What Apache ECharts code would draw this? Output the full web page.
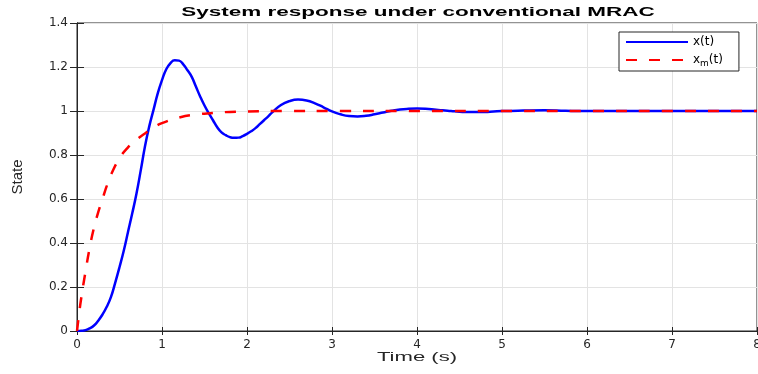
<!DOCTYPE html>
<html>
<head>
<meta charset="utf-8">
<script src="https://cdn.jsdelivr.net/npm/echarts@6/dist/echarts.min.js"></script>
<style>
  html, body { margin: 0; padding: 0; background: #fff; }
  #chart { width: 758px; height: 374px; }
</style>
</head>
<body>
<div id="chart"></div>
<script>
// plant output x(t)
const tPlant = [0, 0.05, 0.1, 0.15, 0.2, 0.25, 0.3, 0.35, 0.4, 0.45,
  0.5, 0.55, 0.6, 0.65, 0.7, 0.75, 0.8, 0.85, 0.9, 0.95,
  1.0, 1.05, 1.1, 1.15, 1.2, 1.25, 1.3, 1.35, 1.4, 1.45,
  1.5, 1.55, 1.6, 1.65, 1.7, 1.75, 1.8, 1.85, 1.9, 1.95,
  2.0, 2.05, 2.1, 2.15, 2.2, 2.25, 2.3, 2.4, 2.5, 2.6,
  2.7, 2.8, 2.9, 3.0, 3.1, 3.2, 3.3, 3.4, 3.5, 3.6,
  3.7, 3.8, 3.9, 4.0, 4.1, 4.2, 4.3, 4.4, 4.5, 4.6,
  4.7, 4.8, 4.9, 5.0, 5.25, 5.5, 5.75, 6, 6.5, 7, 7.5, 8];
const xPlant = [0, 0.001, 0.004, 0.012, 0.025, 0.047, 0.075, 0.11, 0.155, 0.22,
  0.29, 0.365, 0.45, 0.535, 0.625, 0.73, 0.84, 0.93, 1.005, 1.08,
  1.14, 1.19, 1.218, 1.231, 1.229, 1.212, 1.185, 1.155, 1.11, 1.065,
  1.025, 0.99, 0.958, 0.926, 0.903, 0.89, 0.881, 0.878, 0.879, 0.886,
  0.896, 0.908, 0.922, 0.94, 0.958, 0.976, 0.995, 1.027, 1.045, 1.052,
  1.048, 1.035, 1.017, 0.998, 0.985, 0.977, 0.975, 0.978, 0.985, 0.993,
  1.001, 1.007, 1.010, 1.011, 1.010, 1.007, 1.003, 1.000, 0.997, 0.995,
  0.995, 0.996, 0.998, 1.0, 1.002, 1.003, 1.001, 1.0, 1.0, 1.0, 1.0, 1.0];

// reference model x_m(t)
const tModel = [0, 0.025, 0.05, 0.1, 0.15, 0.2, 0.25, 0.3, 0.35, 0.4,
  0.5, 0.6, 0.7, 0.8, 0.9, 1.0, 1.2, 1.4, 1.6, 1.8,
  2.0, 2.5, 3, 4, 5, 6, 7, 8];
const xModel = [0, 0.08, 0.15, 0.27, 0.38, 0.47, 0.54, 0.6, 0.66, 0.71,
  0.785, 0.835, 0.87, 0.898, 0.925, 0.945, 0.97, 0.984, 0.991, 0.996,
  0.998, 1.0, 1.0, 1.0, 1.0, 1.0, 1.0, 1.0];

const xTicks = [0, 1, 2, 3, 4, 5, 6, 7, 8];
const yTicks = [0, 0.2, 0.4, 0.6, 0.8, 1, 1.2, 1.4];

const chart = echarts.init(document.getElementById('chart'));
const axisColor = '#262626';
const gridColor = '#e3e3e3';

const option = {
  backgroundColor: '#fff',
  animation: false,
  graphic: [
    {
      type: 'text', x: 418, y: 12, scaleX: 1.73,
      style: {
        text: 'System response under conventional MRAC',
        fill: '#000', fontFamily: 'Liberation Sans', fontWeight: 'bold', fontSize: 13,
        align: 'center', verticalAlign: 'middle'
      }
    },
    {
      type: 'text', x: 417, y: 357, scaleX: 1.7,
      style: {
        text: 'Time (s)',
        fill: axisColor, fontFamily: 'Liberation Sans', fontSize: 13,
        align: 'center', verticalAlign: 'middle'
      }
    }
  ],
  grid: {
    left: 77, right: 1, top: 23, bottom: 43, outerBoundsMode: 'none',
    show: true, borderColor: axisColor, borderWidth: 1
  },
  legend: {
    orient: 'vertical',
    left: 619, top: 32,
    padding: [4, 16, 3, 6],
    itemWidth: 62, itemHeight: 12, itemGap: 6,
    backgroundColor: '#fff',
    borderColor: axisColor, borderWidth: 1,
    itemStyle: { opacity: 0 },
    formatter: name => name === 'x_m(t)' ? '{n|x}{s|m}{n|(t)}' : '{n|x(t)}',
    textStyle: {
      rich: {
        n: { fontFamily: 'DejaVu Sans', fontSize: 12, color: '#000' },
        s: { fontFamily: 'DejaVu Sans', fontSize: 9, color: '#000', padding: [7, 0, 0, 0] }
      }
    },
    data: ['x(t)', 'x_m(t)']
  },
  xAxis: [
    {
      type: 'value', min: 0, max: 8, interval: 1,
      axisLine: { show: true, lineStyle: { color: axisColor, width: 1 } },
      axisTick: { show: true, inside: true, length: 4, lineStyle: { color: axisColor } },
      axisLabel: {
        margin: 8, color: axisColor, fontFamily: 'DejaVu Sans', fontSize: 12,
        formatter: v => xTicks.includes(v) ? String(v) : ''
      },
      splitLine: { show: true, lineStyle: { color: gridColor, width: 1 } }
    },
    {
      type: 'value', position: 'top', min: 0, max: 8, interval: 1,
      axisLine: { show: true, lineStyle: { color: axisColor, width: 1 } },
      axisTick: { show: true, inside: true, length: 4, lineStyle: { color: axisColor } },
      axisLabel: { show: false },
      splitLine: { show: false }
    }
  ],
  yAxis: [
    {
      type: 'value', min: 0, max: 1.4, interval: 0.2,
      name: 'State', nameLocation: 'middle', nameGap: 52, nameRotate: 90,
      nameTextStyle: { fontFamily: 'Liberation Sans', fontSize: 15, color: axisColor },
      axisLine: { show: true, lineStyle: { color: axisColor, width: 1 } },
      axisTick: { show: true, inside: true, length: 7, lineStyle: { color: axisColor } },
      axisLabel: {
        margin: 9, color: axisColor, fontFamily: 'DejaVu Sans', fontSize: 12,
        formatter: v => {
          const t = yTicks.find(k => Math.abs(k - v) < 1e-9);
          return t === undefined ? '' : String(t);
        }
      },
      splitLine: { show: true, lineStyle: { color: gridColor, width: 1 } }
    },
    {
      type: 'value', position: 'right', min: 0, max: 1.4, interval: 0.2,
      axisLine: { show: true, lineStyle: { color: axisColor, width: 1 } },
      axisTick: { show: true, inside: true, length: 7, lineStyle: { color: axisColor } },
      axisLabel: { show: false },
      splitLine: { show: false }
    }
  ],
  series: [
    {
      name: 'x(t)', type: 'line', smooth: 0.5, symbol: 'none',
      lineStyle: { color: '#0000ff', width: 2.5 },
      itemStyle: { color: '#0000ff' },
      data: tPlant.map((t, i) => [t, xPlant[i]])
    },
    {
      name: 'x_m(t)', type: 'line', smooth: 0.5, symbol: 'none',
      lineStyle: { color: '#ff0000', width: 2.5, type: [11, 12] },
      itemStyle: { color: '#ff0000' },
      data: tModel.map((t, i) => [t, xModel[i]])
    }
  ]
};

chart.setOption(option);
</script>
</body>
</html>
